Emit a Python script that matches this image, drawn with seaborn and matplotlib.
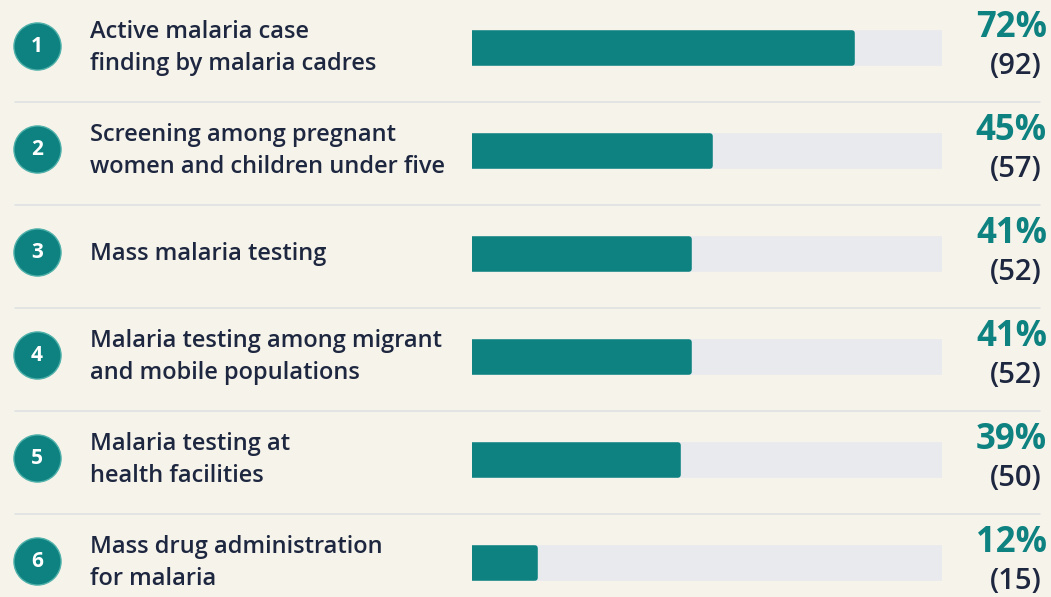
import matplotlib
matplotlib.use("Agg")
import matplotlib.pyplot as plt
import matplotlib.transforms as mtransforms
import seaborn as sns
import pandas as pd

# data
labels = [
    "Active malaria case\nfinding by malaria cadres",
    "Screening among pregnant\nwomen and children under five",
    "Mass malaria testing",
    "Malaria testing among migrant\nand mobile populations",
    "Malaria testing at\nhealth facilities",
    "Mass drug administration\nfor malaria",
]
percents = [72, 45, 41, 41, 39, 12]
counts = [92, 57, 52, 52, 50, 15]
ranks = [1, 2, 3, 4, 5, 6]

track_max = 89  # grey track length in the same units

bg = "#f6f3ea"
teal = "#0d8280"
navy = "#1e2740"
track_col = "#e8eaee"
sep_col = "#dfe1e2"

df = pd.DataFrame({"label": labels, "pct": percents, "n": counts, "rank": ranks})
df["track"] = track_max

sns.set_theme(style="white")
plt.rcParams["font.family"] = ["Open Sans", "DejaVu Sans"]

fig = plt.figure(figsize=(10.51, 5.97), dpi=100, facecolor=bg)
ax = fig.add_axes([472 / 1051, 0, 470 / 1051, 1])
ax.set_facecolor("none")

sns.barplot(data=df, y="label", x="track", color=track_col, width=0.29,
            orient="h", ax=ax, saturation=1)
sns.barplot(data=df, y="label", x="pct", color=teal, width=0.29,
            orient="h", ax=ax, saturation=1)
for p in ax.patches:
    p.set_edgecolor(p.get_facecolor())
    p.set_linewidth(4)
    p.set_joinstyle("round")

ax.set_xlim(0, track_max)
ax.set_ylim(5.33, -0.466)
ax.axis("off")

trans = mtransforms.blended_transform_factory(fig.transFigure, ax.transData)
for i, row in df.iterrows():
    ax.scatter([37 / 1051], [i - 0.02], s=1150, color=teal, edgecolors="#4fb0aa",
               linewidths=1, transform=trans, clip_on=False, zorder=5)
    ax.text(37 / 1051, i - 0.01, str(row["rank"]), transform=trans, ha="center",
            va="center", color="white", fontsize=15, fontweight="bold", zorder=6)
    ax.text(90 / 1051, i, row["label"], transform=trans, ha="left", va="center",
            color=navy, fontsize=17, fontweight="semibold", linespacing=1.45)
    ax.text(1047 / 1051, i - 0.19, f"{row['pct']}%", transform=trans, ha="right",
            va="center", color=teal, fontsize=25, fontweight="bold")
    ax.text(1042 / 1051, i + 0.18, f"({row['n']})", transform=trans, ha="right",
            va="center", color=navy, fontsize=21, fontweight="semibold")
    if i < len(df) - 1:
        ax.plot([15 / 1051, 1040 / 1051], [i + 0.52, i + 0.52], transform=trans,
                color=sep_col, lw=1.2, clip_on=False)

fig.savefig("out.png", dpi=100, facecolor=bg)
